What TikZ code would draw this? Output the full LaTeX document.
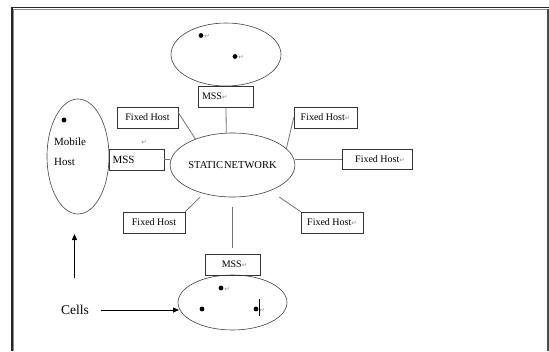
\documentclass[tikz,border=0pt]{standalone}
\usepackage{fontspec}
\setmainfont{Liberation Serif}
\newfontfamily\dejavu{DejaVu Sans}
\usetikzlibrary{shapes.geometric,arrows.meta,calc}
\newcommand\retmark{{\dejavu\fontsize{6.5}{6.5}\selectfont\color{black!45}↵}}
\tikzset{
  cellshape/.style={ellipse, draw=black!75, line width=0.6pt, inner sep=0pt},
  hostbox/.style={rectangle, draw=black!80, line width=0.6pt, inner sep=0pt, font=\fontsize{10}{12}\selectfont},
  link/.style={draw=black!55, line width=0.8pt},
  arr/.style={draw=black, line width=0.8pt, -{Triangle[length=6pt,width=5pt]}},
  dot/.style={circle, fill=black, inner sep=0pt, minimum size=4.8pt},
  lbl/.style={inner sep=0pt, font=\fontsize{11}{13}\selectfont},
}
\begin{document}
\begin{tikzpicture}[x=1pt,y=-1pt]
\useasboundingbox (0,0) rectangle (549,351);
\fill[white] (0,0) rectangle (549,351);
% frame
\draw[black!85, line width=1.3pt] (12,351) -- (12,7.5) -- (549,7.5);
\draw[black!45, line width=1pt] (13.8,351) -- (13.8,9.6) -- (548,9.6);
\draw[black!70, line width=1.4pt] (548,9) -- (548,351);

% cells / ellipses
\node[cellshape, minimum width=110pt, minimum height=63pt] (cellTop) at (226,54.5) {};
\node[cellshape, minimum width=62pt, minimum height=115pt] (mobile) at (78,156.5) {};
\node[cellshape, minimum width=111pt, minimum height=64pt, font=\fontsize{10.5}{12}\selectfont] (net) at (232.5,165) {STATIC\hspace{1pt}NETWORK};
\node[cellshape, minimum width=109pt, minimum height=55pt] (cellBot) at (232.5,302.5) {};

% dots
\node[dot] (d1) at (201,35.5) {};
\node[anchor=west, inner sep=0pt] (r1) at ([xshift=0.5pt,yshift=-1pt]d1.east) {\retmark};
\node[dot] (d2) at (235,56.5) {};
\node[anchor=west, inner sep=0pt] (r2) at ([xshift=0.5pt,yshift=-1pt]d2.east) {\retmark};
\node[dot] (d3) at (64,120) {};
\node[dot] (d4) at (221,288) {};
\node[anchor=west, inner sep=0pt] (r4) at ([xshift=0.5pt,yshift=-1pt]d4.east) {\retmark};
\node[dot] (d5) at (202,309) {};
\node[dot] (d6) at (256,309) {};
\node[anchor=west, inner sep=0pt] (r6) at ([xshift=0.5pt,yshift=-1pt]d6.east) {\retmark};
\draw[black, line width=0.9pt] (259.5,299) -- (259.5,316);

% mobile host text
\node[lbl, anchor=west] (mob) at (54,142) {Mobile};
\node[lbl, anchor=west] (hst) at (54,162) {Host};
\node[inner sep=0pt] (rlone) at (144,142) {\retmark};

% boxes
\node[hostbox, minimum width=55pt, minimum height=21pt, text width=47pt, align=left] (mssTop) at (225.5,96.5) {MSS\retmark};
\node[hostbox, minimum width=55pt, minimum height=21pt, text width=48pt, align=left, font=\fontsize{11}{13}\selectfont] (mssL) at (136.5,159.5) {MSS};
\node[hostbox, minimum width=55pt, minimum height=21pt] (mssB) at (232.5,264.5) {\hspace*{4pt}MSS\retmark};
\node[hostbox, minimum width=61pt, minimum height=21pt] (fhTL) at (147.5,117.5) {Fixed Host};
\node[hostbox, minimum width=62pt, minimum height=21pt] (fhBL) at (154,222.5) {Fixed Host};
\node[hostbox, minimum width=63pt, minimum height=21pt] (fhTR) at (325.5,117.5) {Fixed Host\retmark};
\node[hostbox, minimum width=70pt, minimum height=20pt] (fhR) at (377,159) {\hspace*{6pt}Fixed Host\retmark};
\node[hostbox, minimum width=62pt, minimum height=21pt] (fhBR) at (332,222.5) {Fixed Host\retmark};

% links
\draw[link] (mssTop.south -| 226,0) -- (net.101);
\draw[link] (mssL.east) -- (mssL.east -| net.west);
\draw[link] ([yshift=5pt]fhTL.east) -- (net.145);
\draw[link] (fhTR.west) -- (net.17);
\draw[link] (fhR.west) -- (fhR.west -| net.east);
\draw[link] (fhBR.north west) -- ($(fhBR.north west)!26pt!(net.center)$);
\draw[link] (fhBL.north east) -- ($(fhBL.north east)!21pt!(net.center)$);
\draw[link, shorten <=10pt, shorten >=6pt] (net.south) -- (mssB.north);

% cells label and arrows
\node[inner sep=0pt, font=\fontsize{13.5}{15}\selectfont] (cells) at (75,310) {Cells};
\coordinate (upFrom) at (74.5,278);
\coordinate (upTip) at (74.5,234);
\coordinate (cellsTip) at (179,310);
\draw[arr] (upFrom) -- (upTip);
\draw[arr, shorten <=12pt] (cells.east) -- (cellsTip);
\end{tikzpicture}
\end{document}
